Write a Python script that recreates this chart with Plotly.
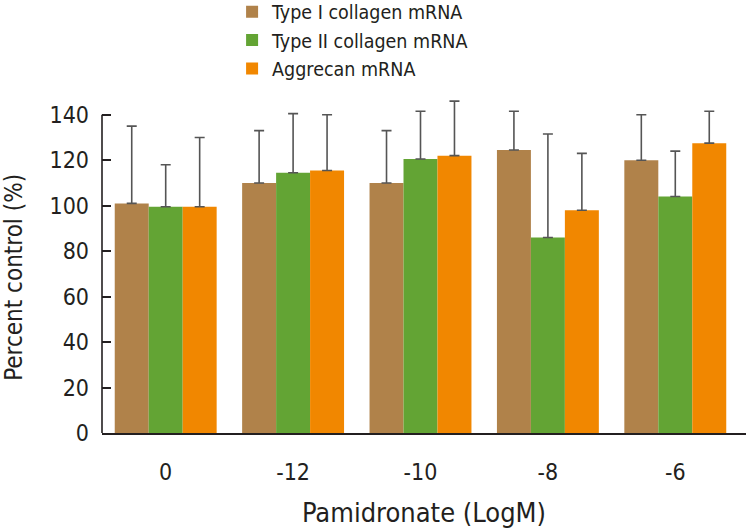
import plotly.graph_objects as go

categories = ["0", "-12", "-10", "-8", "-6"]
type1 = [101, 110, 110, 124.5, 120]
type1_err = [34, 23, 23, 17, 20]
type2 = [99.5, 114.5, 120.5, 86, 104]
type2_err = [18.5, 26, 21, 45.5, 20]
aggrecan = [99.5, 115.5, 122, 98, 127.5]
aggrecan_err = [30.5, 24.5, 24, 25, 14]
series_names = ["Type I collagen mRNA", "Type II collagen mRNA", "Aggrecan mRNA"]
y_ticks = [0, 20, 40, 60, 80, 100, 120, 140]

colors = ["#B0824A", "#63A434", "#F18700"]
FONT = "Liberation Sans Narrow, DejaVu Sans Condensed, Arial Narrow, sans-serif"
TXT = "#231F20"

fig = go.Figure()
for name, vals, errs, col in zip(series_names, [type1, type2, aggrecan],
                                 [type1_err, type2_err, aggrecan_err], colors):
    fig.add_trace(go.Bar(
        x=categories, y=vals, name=name, cliponaxis=False,
        marker=dict(color=col, line=dict(width=0)),
        error_y=dict(type="data", symmetric=False, array=errs,
                     arrayminus=[0] * len(errs), color="#555555",
                     thickness=1.6, width=5),
    ))

# y-axis line drawn only up to the top tick (140)
fig.add_shape(type="line", xref="paper", yref="y", x0=0, x1=0,
              y0=0, y1=y_ticks[-1], line=dict(color="#231F20", width=1.6))

# y-axis title
fig.add_annotation(text="Percent control (%)", xref="paper", yref="paper",
                   x=-0.1366, y=0.455, xanchor="center", yanchor="middle",
                   textangle=-90, showarrow=False,
                   font=dict(size=24, family=FONT, color=TXT))

fig.update_layout(
    width=748, height=528,
    margin=dict(l=102, r=2, t=92, b=95, autoexpand=False),
    paper_bgcolor="white", plot_bgcolor="white",
    barmode="group", bargap=0.2, bargroupgap=0,
    font=dict(family=FONT, color=TXT),
    legend=dict(x=0.202, y=1.2915, xanchor="left", yanchor="top",
                font=dict(size=19.5, family=FONT, color=TXT),
                itemwidth=30, tracegroupgap=0, bgcolor="rgba(0,0,0,0)"),
    showlegend=True,
)
fig.update_xaxes(
    type="category", range=[-0.5, 4.555], tickangle=0,
    showline=True, linecolor="#231F20", linewidth=1.6,
    ticks="", showgrid=False, zeroline=False,
    tickfont=dict(size=23, family=FONT, color=TXT),
    ticklabelstandoff=18,
    title=dict(text="Pamidronate (LogM)", font=dict(size=27, family=FONT, color=TXT), standoff=22),
)
fig.update_yaxes(
    range=[0, 150], tickvals=y_ticks,
    showline=False,
    ticks="inside", ticklen=9, tickwidth=1.6, tickcolor="#231F20",
    showgrid=False, zeroline=False,
    tickfont=dict(size=23, family=FONT, color=TXT),
    ticklabelstandoff=12,
)
fig.write_html(
    "out.html",
    config={"displayModeBar": False},
    post_script="document.body.style.margin='0';document.body.style.overflow='hidden';",
)
